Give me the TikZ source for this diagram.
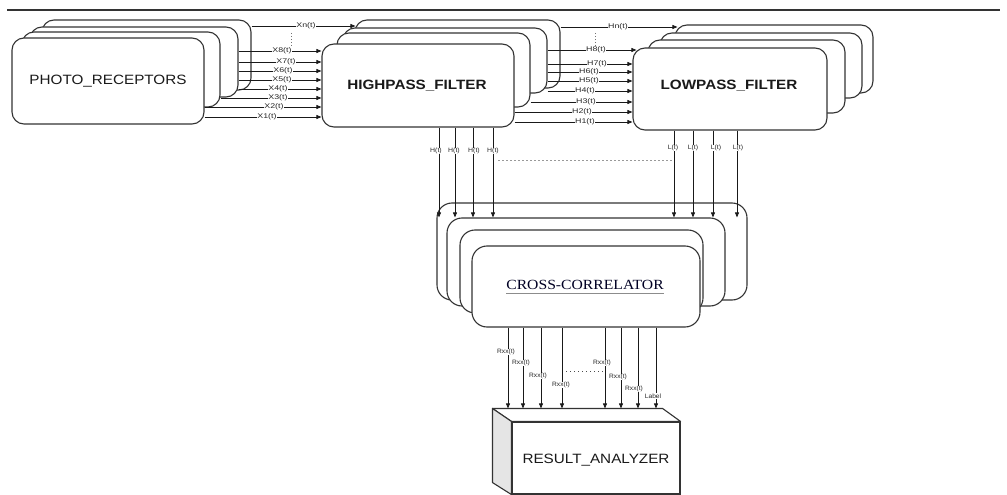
\documentclass[tikz,border=0pt]{standalone}
\usepackage{graphicx}
\usepackage{fontspec}
\setmainfont{Liberation Sans}
\newfontfamily\serifx{Liberation Serif}
\usetikzlibrary{arrows.meta,calc}
\tikzset{
 box/.style={draw=black!80, line width=1.1pt, fill=white, rounded corners=12pt, inner sep=0pt},
 cbox/.style={box, rounded corners=15pt},
 arr/.style={draw=black!90, line width=0.75pt, -{Triangle[length=5pt,width=4pt]}},
 xl/.style={fill=white, inner sep=0.4pt, text=black!85, font=\fontsize{6.8}{7}\selectfont},
 sl/.style={fill=white, inner sep=0.4pt, text=black!85, font=\fontsize{6.3}{7}\selectfont},
 big/.style={inner sep=0pt, text=black!90, font=\fontsize{13.5}{14}\selectfont},
 dotl/.style={draw=black!55, line width=0.8pt, dash pattern=on 1pt off 2pt},
}
\newcommand{\mkbox}[6]{\node[#1, minimum width={(#5-#3)*1pt}, minimum height={(#6-#4)*1pt}] (#2) at ({(#3+#5)/2},{(#4+#6)/2}) {};}
\newcommand{\wx}[2]{\scalebox{#1}[1]{#2}}
\begin{document}
\begin{tikzpicture}[x=1pt,y=-1pt]
\useasboundingbox (0,0) rectangle (1007,495);
% top rule
\coordinate (r1) at (7,10);
\coordinate (r2) at (1000,10);
\draw[line width=2.7pt, black!80] (r1) -- (r2);
% photo receptors
\mkbox{box}{p4}{42}{20}{251}{90}
\mkbox{box}{p3}{30}{27}{238}{97}
\mkbox{box}{p2}{22}{32}{220}{107}
\mkbox{box}{p1}{12}{38}{204}{124}
\node[big] (pt) at (108,81) {\wx{1.13}{PHOTO\_RECEPTORS}};
% highpass
\mkbox{box}{h4}{355}{20}{560}{88}
\mkbox{box}{h3}{343}{28}{547}{93}
\mkbox{box}{h2}{337}{33}{530}{107}
\mkbox{box}{h1}{322}{44}{514}{127}
\node[big, font=\fontsize{13.5}{14}\selectfont\bfseries] (ht) at (417,86) {\wx{1.13}{HIGHPASS\_FILTER}};
% lowpass
\mkbox{box}{l4}{675}{25}{873}{93}
\mkbox{box}{l3}{660}{33}{862}{98}
\mkbox{box}{l2}{648}{40}{845}{113}
\mkbox{box}{l1}{633}{48}{827}{130}
\node[big, font=\fontsize{13.5}{14}\selectfont\bfseries] (lt) at (729,86) {\wx{1.13}{LOWPASS\_FILTER}};
% cross correlator
\mkbox{cbox}{cA}{437}{203}{747}{300}
\mkbox{cbox}{cB}{447}{218}{725}{306}
\mkbox{cbox}{cC}{460}{230}{703}{313}
\mkbox{cbox}{cD}{472}{246}{700}{327}
\node[inner sep=0pt, text=black!80!blue!70!black, font=\serifx\fontsize{14}{15}\selectfont] (ct) at (585,285) {\wx{1.12}{CROSS-CORRELATOR}};
\draw[black!45, line width=0.8pt] ([yshift=-4pt]ct.base west) -- ([yshift=-4pt]ct.base east);
% result analyzer
\node[draw=black!80, line width=1.1pt, fill=white, minimum width=168pt, minimum height=72pt, inner sep=0pt] (ra) at (596,458) {};
\coordinate (ratop) at ($(ra.north west)+(-19,-13)$);
\coordinate (ratopr) at ($(ra.north east)+(-18,-13)$);
\coordinate (rabot) at ($(ra.south west)+(-19,-12)$);
\draw[draw=black!80, line width=1.1pt, fill=white, line join=round] (ratop) -- (ratopr) -- (ra.north east) -- (ra.north west) -- cycle;
\draw[draw=black!80, line width=1.1pt, fill=black!10, line join=round] (ratop) -- (ra.north west) -- (ra.south west) -- (rabot) -- cycle;
\node[big] (rt) at (596,460) {\wx{1.13}{RESULT\_ANALYZER}};
% X rows
\foreach \yy/\src/\dst/\lx/\lab/\sh in {26/p4/h4/306/Xn(t)/-1, 51/p3/h1/282/X8(t)/0, 62/p3/h1/286/X7(t)/0, 71/p3/h1/283/X6(t)/0, 80/p3/h1/282/X5(t)/0, 89/p3/h1/278/X4(t)/0, 98/p2/h1/278/X3(t)/0, 107/p1/h1/274/X2(t)/0, 117/p1/h1/267/X1(t)/0} {
  \draw[arr, shorten >=\sh pt] (\src.east |- 0,\yy) -- (\dst.west |- 0,\yy);
  \node[xl] (x\yy) at (\lx,\yy) {\wx{1.3}{\lab}};
}
\coordinate (xd1) at (291,33);
\coordinate (xd2) at (291,47);
\draw[dotl] (xd1) -- (xd2);
% H rows
\foreach \yy/\src/\dst/\lx/\lab/\sh in {27/h4/l4/618/Hn(t)/-3, 50/h3/l1/596/H8(t)/-4, 64/h3/l1/597/H7(t)/0, 72/h3/l1/589/H6(t)/0, 81/h3/l1/589/H5(t)/0, 91/h3/l1/585/H4(t)/0, 102/h2/l1/586/H3(t)/0, 112/h1/l1/582/H2(t)/0, 122/h1/l1/585/H1(t)/0} {
  \draw[arr, shorten >=\sh pt] (\src.east |- 0,\yy) -- (\dst.west |- 0,\yy);
  \node[xl] (hl\yy) at (\lx,\yy) {\wx{1.3}{\lab}};
}
\coordinate (hd1) at (595,33);
\coordinate (hd2) at (595,47);
\draw[dotl] (hd1) -- (hd2);
% vertical H(t)
\foreach \xx/\lx in {439/436, 455/454, 473/474, 493/493} {
  \draw[arr] (h1.south -| \xx,0) -- (cB.north -| \xx,0);
  \node[sl] (hv\xx) at (\lx,151) {\wx{1.1}{H(t)}};
}
% vertical L(t)
\foreach \xx/\lx in {674/673, 693/693, 713/716, 737/738} {
  \draw[arr] (l1.south -| \xx,0) -- (cB.north -| \xx,0);
  \node[sl] (lv\xx) at (\lx,148) {\wx{1.1}{L(t)}};
}
\coordinate (gd1) at (498,160);
\coordinate (gd2) at (673,160);
\draw[draw=black!40, line width=0.8pt, dash pattern=on 2pt off 2pt] (gd1) -- (gd2);
% outputs
\foreach \xx/\ly/\lx/\lab in {508/352/506/Rxx(t), 523/363/521/Rxx(t), 541/376/538/Rxx(t), 562/385/561/Rxx(t), 605/363/602/Rxx(t), 621/377/618/Rxx(t), 638/389/634/Rxx(t), 656/396/653/Label} {
  \draw[arr] (cD.south -| \xx,0) -- (ratop -| \xx,0);
  \node[sl] (o\xx) at (\lx,\ly) {\wx{1.05}{\lab}};
}
\coordinate (od1) at (566,371);
\coordinate (od2) at (603,371);
\draw[draw=black!70, line width=0.8pt, dash pattern=on 1pt off 3pt] (od1) -- (od2);
\end{tikzpicture}
\end{document}
